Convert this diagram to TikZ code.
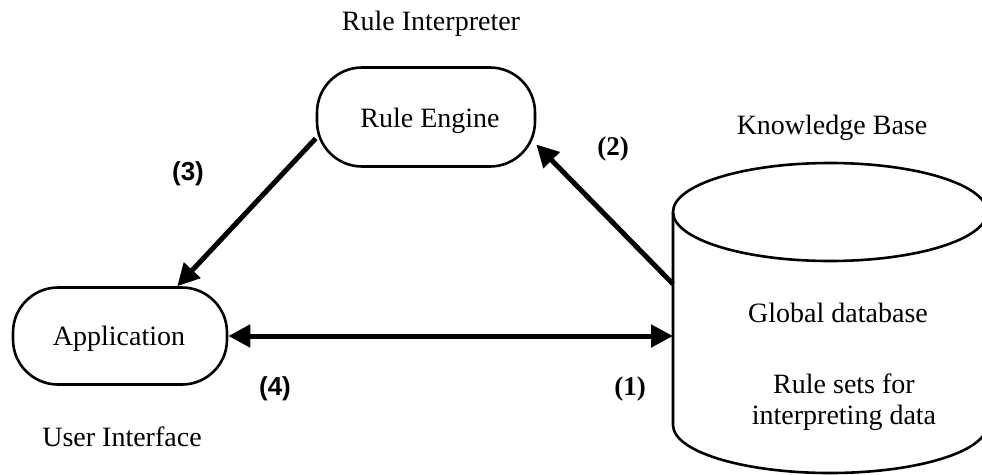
\documentclass[tikz,border=0pt]{standalone}
\usepackage{fontspec}
\setmainfont{Liberation Serif}
\newfontfamily\labsans{Liberation Sans}
\usetikzlibrary{arrows.meta}
\begin{document}
\begin{tikzpicture}[x=1pt,y=-1pt,
  txt/.style={font=\fontsize{28}{34}\selectfont, inner sep=0pt},
  pill/.style={draw, line width=2.6pt, rounded corners=45pt, inner sep=0pt,
    font=\fontsize{28}{34}\selectfont},
  flow/.style={line width=5pt, -{Triangle[length=22pt,width=22pt]}},
  flow2/.style={line width=5pt, {Triangle[length=22pt,width=22pt]}-{Triangle[length=22pt,width=22pt]}},
  labss/.style={font=\labsans\bfseries\fontsize{26}{30}\selectfont, inner sep=0pt},
  labsr/.style={font=\bfseries\fontsize{27}{30}\selectfont, inner sep=0pt}]
\useasboundingbox (0,0) rectangle (982,474);
\clip (0,0) rectangle (982,474);

% cylinder (knowledge base)
\draw[line width=2.6pt] (830,212) ellipse [x radius=157pt, y radius=49pt];
\draw[line width=2.6pt] (673,212) -- (673,425)
  arc[start angle=180, end angle=360, x radius=157pt, y radius=48pt] -- (987,212);
\coordinate (kbtwo) at (673,284);
\coordinate (kbone) at (673,336);

% nodes
\node[pill, minimum width=218pt, minimum height=99pt] (eng) at (426,117) {};
\node[txt] (engt) at (430,121) {Rule Engine};
\node[pill, minimum width=214pt, minimum height=97pt] (app) at (120,336) {};
\node[txt] (appt) at (119,339) {Application};

\node[txt] (ri) at (431,24) {Rule Interpreter};
\node[txt] (ui) at (122,437) {User Interface};
\node[txt] (kbt) at (832,128) {Knowledge Base};
\node[txt] (gd) at (838,313) {Global database};
\node[txt] (rs) at (844,384) {Rule sets for};
\node[txt] (ip) at (844,418) {interpreting data};

% connectors
\draw[flow] (kbtwo) -- (eng.-14);
\draw[flow] (eng.191) -- (app.41);
\draw[flow2] (app.east) -- (kbone);

% labels
\node[labss] (l3) at (188,174) {(3)};
\node[labsr] (l2) at (613,149) {(2)};
\node[labss] (l4) at (275,389) {(4)};
\node[labsr] (l1) at (630,389) {(1)};
\end{tikzpicture}
\end{document}
